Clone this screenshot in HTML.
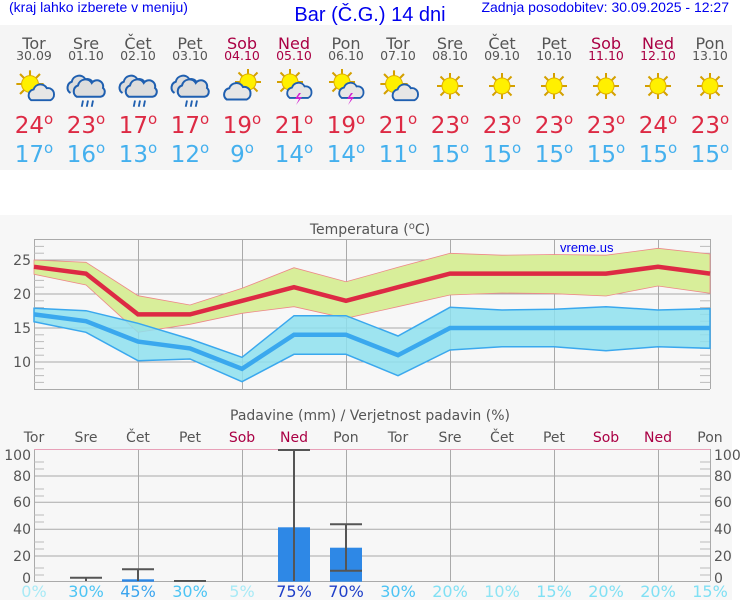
<!DOCTYPE html>
<html><head><meta charset="utf-8"><style>
body{margin:0;width:740px;height:600px;background:#fff;overflow:hidden;font-family:"DejaVu Sans","Liberation Sans",sans-serif;}
svg{display:block}
</style></head><body>
<svg width="740" height="600" viewBox="0 0 740 600" xmlns="http://www.w3.org/2000/svg">
<defs>
<g id="sun">
 <g stroke="#d4a000" stroke-width="2">
  <line x1="-13" y1="0" x2="13" y2="0"/><line x1="0" y1="-13" x2="0" y2="13"/>
  <line x1="-9.5" y1="-9.5" x2="9.5" y2="9.5"/><line x1="-9.5" y1="9.5" x2="9.5" y2="-9.5"/>
 </g>
 <circle r="8" fill="#fff000" stroke="#e0b000" stroke-width="1"/>
</g>
<g id="cloud"><path d="M-9 6 a5 5 0 0 1 2-9 a6 6 0 0 1 11-1 a5 5 0 0 1 6 5 a5 5 0 0 1-3 5z" fill="#e6e6e6" stroke="#1f5fb0" stroke-width="1.6"/></g>
<g id="rain">
 <path d="M-14 4 a5 5 0 0 1 1-9 a6 6 0 0 1 11-2 a5 5 0 0 1 6 3" fill="#ddd" stroke="#1f5fb0" stroke-width="1.6"/>
 <path d="M-9 7 a5 5 0 0 1 1-9 a6 6 0 0 1 11-2 a5 5 0 0 1 9 4 a4 4 0 0 1-2 7z" fill="#ddd" stroke="#1f5fb0" stroke-width="1.6"/>
 <g stroke="#1f5fb0" stroke-width="1.5"><line x1="-4" y1="10" x2="-5" y2="15"/><line x1="0" y1="10" x2="-1" y2="15"/><line x1="4" y1="10" x2="3" y2="15"/></g>
</g>
<g id="storm"><path d="M1 3 l-4 6 h4 l-3 6 l6-8 h-4 l3-4z" fill="#d020d0"/></g>
</defs>

<text x="9" y="12" font-family="Liberation Sans" font-size="14" fill="#0000ee">(kraj lahko izberete v meniju)</text>
<text x="370" y="21" text-anchor="middle" font-family="Liberation Sans" font-size="20" fill="#0000ee">Bar (Č.G.) 14 dni</text>
<text x="729" y="12" text-anchor="end" font-family="Liberation Sans" font-size="14" fill="#0000ee">Zadnja posodobitev: 30.09.2025 - 12:27</text>

<rect x="0" y="25" width="732" height="145" fill="#f5f5f5"/>
<g font-size="16" text-anchor="middle" fill="#555">
<text x="34" y="49">Tor</text><text x="86" y="49">Sre</text><text x="138" y="49">Čet</text><text x="190" y="49">Pet</text><text x="242" y="49" fill="#aa0044">Sob</text><text x="294" y="49" fill="#aa0044">Ned</text><text x="346" y="49">Pon</text><text x="398" y="49">Tor</text><text x="450" y="49">Sre</text><text x="502" y="49">Čet</text><text x="554" y="49">Pet</text><text x="606" y="49" fill="#aa0044">Sob</text><text x="658" y="49" fill="#aa0044">Ned</text><text x="710" y="49">Pon</text>
</g>
<g font-size="12.5" text-anchor="middle" fill="#555">
<text x="34" y="60">30.09</text><text x="86" y="60">01.10</text><text x="138" y="60">02.10</text><text x="190" y="60">03.10</text><text x="242" y="60" fill="#aa0044">04.10</text><text x="294" y="60" fill="#aa0044">05.10</text><text x="346" y="60">06.10</text><text x="398" y="60">07.10</text><text x="450" y="60">08.10</text><text x="502" y="60">09.10</text><text x="554" y="60">10.10</text><text x="606" y="60" fill="#aa0044">11.10</text><text x="658" y="60" fill="#aa0044">12.10</text><text x="710" y="60">13.10</text>
</g>
<g transform="translate(0,88)">
<g transform="translate(30,-4) scale(1.05)"><use href="#sun"/></g><g transform="translate(42,5) scale(1.2)"><use href="#cloud"/></g>
<g transform="translate(88,0) scale(1.25)"><use href="#rain"/></g><g transform="translate(140,0) scale(1.25)"><use href="#rain"/></g><g transform="translate(192,0) scale(1.25)"><use href="#rain"/></g>
<g transform="translate(248,-6)"><use href="#sun"/></g><g transform="translate(238,4) scale(1.25)"><use href="#cloud"/></g>
<g transform="translate(290,-6)"><use href="#sun"/></g><g transform="translate(300,3) scale(1.15)"><use href="#cloud"/></g><use href="#storm" x="298" y="2"/>
<g transform="translate(342,-6)"><use href="#sun"/></g><g transform="translate(352,3) scale(1.15)"><use href="#cloud"/></g><use href="#storm" x="350" y="2"/>
<g transform="translate(394,-4) scale(1.05)"><use href="#sun"/></g><g transform="translate(406,5) scale(1.2)"><use href="#cloud"/></g>
<use href="#sun" x="450" y="-2"/><use href="#sun" x="502" y="-2"/><use href="#sun" x="554" y="-2"/><use href="#sun" x="606" y="-2"/><use href="#sun" x="658" y="-2"/><use href="#sun" x="710" y="-2"/>
</g>

<g font-size="23" text-anchor="middle" fill="#dd2a44">
<text x="34" y="133">24<tspan font-size="15" dy="-9">o</tspan></text><text x="86" y="133">23<tspan font-size="15" dy="-9">o</tspan></text><text x="138" y="133">17<tspan font-size="15" dy="-9">o</tspan></text><text x="190" y="133">17<tspan font-size="15" dy="-9">o</tspan></text><text x="242" y="133">19<tspan font-size="15" dy="-9">o</tspan></text><text x="294" y="133">21<tspan font-size="15" dy="-9">o</tspan></text><text x="346" y="133">19<tspan font-size="15" dy="-9">o</tspan></text><text x="398" y="133">21<tspan font-size="15" dy="-9">o</tspan></text><text x="450" y="133">23<tspan font-size="15" dy="-9">o</tspan></text><text x="502" y="133">23<tspan font-size="15" dy="-9">o</tspan></text><text x="554" y="133">23<tspan font-size="15" dy="-9">o</tspan></text><text x="606" y="133">23<tspan font-size="15" dy="-9">o</tspan></text><text x="658" y="133">24<tspan font-size="15" dy="-9">o</tspan></text><text x="710" y="133">23<tspan font-size="15" dy="-9">o</tspan></text>
</g>
<g font-size="23" text-anchor="middle" fill="#44b0ee">
<text x="34" y="162">17<tspan font-size="15" dy="-9">o</tspan></text><text x="86" y="162">16<tspan font-size="15" dy="-9">o</tspan></text><text x="138" y="162">13<tspan font-size="15" dy="-9">o</tspan></text><text x="190" y="162">12<tspan font-size="15" dy="-9">o</tspan></text><text x="242" y="162">9<tspan font-size="15" dy="-9">o</tspan></text><text x="294" y="162">14<tspan font-size="15" dy="-9">o</tspan></text><text x="346" y="162">14<tspan font-size="15" dy="-9">o</tspan></text><text x="398" y="162">11<tspan font-size="15" dy="-9">o</tspan></text><text x="450" y="162">15<tspan font-size="15" dy="-9">o</tspan></text><text x="502" y="162">15<tspan font-size="15" dy="-9">o</tspan></text><text x="554" y="162">15<tspan font-size="15" dy="-9">o</tspan></text><text x="606" y="162">15<tspan font-size="15" dy="-9">o</tspan></text><text x="658" y="162">15<tspan font-size="15" dy="-9">o</tspan></text><text x="710" y="162">15<tspan font-size="15" dy="-9">o</tspan></text>
</g>

<rect x="0" y="215" width="732" height="385" fill="#f7f7f7"/>
<text x="370" y="234" text-anchor="middle" font-size="14" fill="#555">Temperatura (<tspan font-size="10" dy="-5">o</tspan><tspan dy="5">C)</tspan></text>

<g stroke="#aaa" stroke-width="1">
<line x1="34" y1="239.5" x2="710" y2="239.5"/><line x1="34" y1="389.5" x2="710" y2="389.5"/>
<line x1="34" y1="260" x2="710" y2="260"/><line x1="34" y1="294" x2="710" y2="294"/><line x1="34" y1="328" x2="710" y2="328"/><line x1="34" y1="362" x2="710" y2="362"/>
<line x1="34.5" y1="239" x2="34.5" y2="389"/><line x1="138.5" y1="239" x2="138.5" y2="389"/><line x1="242.5" y1="239" x2="242.5" y2="389"/><line x1="346.5" y1="239" x2="346.5" y2="389"/><line x1="450.5" y1="239" x2="450.5" y2="389"/><line x1="554.5" y1="239" x2="554.5" y2="389"/><line x1="658.5" y1="239" x2="658.5" y2="389"/><line x1="710.5" y1="239" x2="710.5" y2="389"/>
</g>
<g stroke="#bbb" stroke-width="1">
<line x1="34" y1="246.4" x2="44" y2="246.4"/><line x1="34" y1="253.2" x2="44" y2="253.2"/><line x1="34" y1="266.8" x2="44" y2="266.8"/><line x1="34" y1="273.6" x2="44" y2="273.6"/><line x1="34" y1="280.4" x2="44" y2="280.4"/><line x1="34" y1="287.2" x2="44" y2="287.2"/><line x1="34" y1="300.8" x2="44" y2="300.8"/><line x1="34" y1="307.6" x2="44" y2="307.6"/><line x1="34" y1="314.4" x2="44" y2="314.4"/><line x1="34" y1="321.2" x2="44" y2="321.2"/><line x1="34" y1="334.8" x2="44" y2="334.8"/><line x1="34" y1="341.6" x2="44" y2="341.6"/><line x1="34" y1="348.4" x2="44" y2="348.4"/><line x1="34" y1="355.2" x2="44" y2="355.2"/><line x1="34" y1="368.8" x2="44" y2="368.8"/><line x1="34" y1="375.6" x2="44" y2="375.6"/><line x1="34" y1="382.4" x2="44" y2="382.4"/>
<line x1="700" y1="246.4" x2="710" y2="246.4"/><line x1="700" y1="253.2" x2="710" y2="253.2"/><line x1="700" y1="266.8" x2="710" y2="266.8"/><line x1="700" y1="273.6" x2="710" y2="273.6"/><line x1="700" y1="280.4" x2="710" y2="280.4"/><line x1="700" y1="287.2" x2="710" y2="287.2"/><line x1="700" y1="300.8" x2="710" y2="300.8"/><line x1="700" y1="307.6" x2="710" y2="307.6"/><line x1="700" y1="314.4" x2="710" y2="314.4"/><line x1="700" y1="321.2" x2="710" y2="321.2"/><line x1="700" y1="334.8" x2="710" y2="334.8"/><line x1="700" y1="341.6" x2="710" y2="341.6"/><line x1="700" y1="348.4" x2="710" y2="348.4"/><line x1="700" y1="355.2" x2="710" y2="355.2"/><line x1="700" y1="368.8" x2="710" y2="368.8"/><line x1="700" y1="375.6" x2="710" y2="375.6"/><line x1="700" y1="382.4" x2="710" y2="382.4"/>
</g>
<g font-size="14" fill="#555" text-anchor="end">
<text x="31" y="265">25</text><text x="31" y="299">20</text><text x="31" y="333">15</text><text x="31" y="367">10</text>
</g>

<polygon fill="#d8ee9a" stroke="#e88" stroke-width="0.8" points="34,260 86,262.3 138,295.7 190,305 242,288.3 294,267.7 346,281.7 398,267.3 450,253.3 502,255.2 554,254.5 606,255.2 658,248.3 710,254 710,293.3 658,286 606,296 554,293.7 502,293 450,295 398,306.7 346,318.3 294,306.7 242,313.3 190,324.3 138,332.3 86,285 34,274.3"/>
<polygon fill="#8ee0ee" fill-opacity="0.85" stroke="#3aa8ee" stroke-width="1.5" points="34,308.3 86,310.7 138,323.3 190,339 242,357.3 294,315.7 346,315.7 398,336 450,307.3 502,310 554,309.3 606,306.7 658,310 710,308.7 710,348.3 658,346.7 606,350.7 554,346.7 502,346.7 450,350 398,375.7 346,354.3 294,354.3 242,381.7 190,359 138,360.7 86,332.3 34,321.7"/>
<polyline fill="none" stroke="#dd2a44" stroke-width="4.5" points="34,266.8 86,273.6 138,314.4 190,314.4 242,300.8 294,287.2 346,300.8 398,287.2 450,273.6 502,273.6 554,273.6 606,273.6 658,266.8 710,273.6"/>
<polyline fill="none" stroke="#3aa8ee" stroke-width="4.5" points="34,314.4 86,321.2 138,341.6 190,348.4 242,368.8 294,334.8 346,334.8 398,355.2 450,328 502,328 554,328 606,328 658,328 710,328"/>
<text x="560" y="252" font-family="Liberation Sans" font-size="13" fill="#0000ee">vreme.us</text>

<text x="370" y="420" text-anchor="middle" font-size="14" fill="#555">Padavine (mm) / Verjetnost padavin (%)</text>
<g font-size="14" text-anchor="middle" fill="#555">
<text x="34" y="442">Tor</text><text x="86" y="442">Sre</text><text x="138" y="442">Čet</text><text x="190" y="442">Pet</text><text x="242" y="442" fill="#aa0044">Sob</text><text x="294" y="442" fill="#aa0044">Ned</text><text x="346" y="442">Pon</text><text x="398" y="442">Tor</text><text x="450" y="442">Sre</text><text x="502" y="442">Čet</text><text x="554" y="442">Pet</text><text x="606" y="442" fill="#aa0044">Sob</text><text x="658" y="442" fill="#aa0044">Ned</text><text x="710" y="442">Pon</text>
</g>
<g stroke="#aaa" stroke-width="1">
<line x1="34" y1="476" x2="710" y2="476"/><line x1="34" y1="502.3" x2="710" y2="502.3"/><line x1="34" y1="529.3" x2="710" y2="529.3"/><line x1="34" y1="556" x2="710" y2="556"/><line x1="34" y1="581.5" x2="710" y2="581.5"/>
<line x1="34.5" y1="449" x2="34.5" y2="581"/><line x1="138.5" y1="449" x2="138.5" y2="581"/><line x1="242.5" y1="449" x2="242.5" y2="581"/><line x1="346.5" y1="449" x2="346.5" y2="581"/><line x1="450.5" y1="449" x2="450.5" y2="581"/><line x1="554.5" y1="449" x2="554.5" y2="581"/><line x1="658.5" y1="449" x2="658.5" y2="581"/><line x1="710.5" y1="449" x2="710.5" y2="581"/>
</g>
<g stroke="#bbb" stroke-width="1">
<line x1="34" y1="462" x2="44" y2="462"/><line x1="34" y1="469" x2="44" y2="469"/><line x1="34" y1="489" x2="44" y2="489"/><line x1="34" y1="496" x2="44" y2="496"/><line x1="34" y1="515" x2="44" y2="515"/><line x1="34" y1="522" x2="44" y2="522"/><line x1="34" y1="542" x2="44" y2="542"/><line x1="34" y1="549" x2="44" y2="549"/><line x1="34" y1="568" x2="44" y2="568"/><line x1="34" y1="575" x2="44" y2="575"/>
<line x1="700" y1="462" x2="710" y2="462"/><line x1="700" y1="469" x2="710" y2="469"/><line x1="700" y1="489" x2="710" y2="489"/><line x1="700" y1="496" x2="710" y2="496"/><line x1="700" y1="515" x2="710" y2="515"/><line x1="700" y1="522" x2="710" y2="522"/><line x1="700" y1="542" x2="710" y2="542"/><line x1="700" y1="549" x2="710" y2="549"/><line x1="700" y1="568" x2="710" y2="568"/><line x1="700" y1="575" x2="710" y2="575"/>
</g>
<line x1="34" y1="449.5" x2="710" y2="449.5" stroke="#e8a0b8" stroke-width="1"/>
<g font-size="14" fill="#555">
<text x="31" y="460" text-anchor="end">100</text><text x="31" y="481" text-anchor="end">80</text><text x="31" y="507" text-anchor="end">60</text><text x="31" y="534" text-anchor="end">40</text><text x="31" y="561" text-anchor="end">20</text><text x="31" y="583" text-anchor="end">0</text>
<text x="714" y="460">100</text><text x="714" y="481">80</text><text x="714" y="507">60</text><text x="714" y="534">40</text><text x="714" y="561">20</text><text x="714" y="583">0</text>
</g>
<g fill="#2e88e6">
<rect x="278" y="527.3" width="32" height="54.4"/><rect x="330" y="547.7" width="32" height="34"/><rect x="122" y="579.3" width="32" height="2.4"/>
</g>
<g stroke="#555" stroke-width="2" fill="none">
<line x1="70" y1="577.7" x2="102" y2="577.7"/><line x1="86" y1="577.7" x2="86" y2="581"/>
<line x1="122" y1="569.3" x2="154" y2="569.3"/><line x1="138" y1="569.3" x2="138" y2="581"/>
<line x1="174" y1="581" x2="206" y2="581"/>
<line x1="278" y1="450" x2="310" y2="450"/><line x1="294" y1="450" x2="294" y2="581"/>
<line x1="330" y1="524.3" x2="362" y2="524.3"/><line x1="346" y1="524.3" x2="346" y2="570.7"/><line x1="330" y1="570.7" x2="362" y2="570.7"/>
</g>
<g font-size="16" text-anchor="middle">
<text x="34" y="597" fill="#a8eaf6">0%</text><text x="86" y="597" fill="#4cc4f4">30%</text><text x="138" y="597" fill="#3aa4ee">45%</text><text x="190" y="597" fill="#4cc4f4">30%</text><text x="242" y="597" fill="#a8eaf6">5%</text><text x="294" y="597" fill="#1f3fc8">75%</text><text x="346" y="597" fill="#1f3fc8">70%</text><text x="398" y="597" fill="#4cc4f4">30%</text><text x="450" y="597" fill="#80e0f4">20%</text><text x="502" y="597" fill="#8ee4f4">10%</text><text x="554" y="597" fill="#80e0f4">15%</text><text x="606" y="597" fill="#80e0f4">20%</text><text x="658" y="597" fill="#80e0f4">20%</text><text x="710" y="597" fill="#80e0f4">15%</text>
</g>
</svg>
</body></html>
